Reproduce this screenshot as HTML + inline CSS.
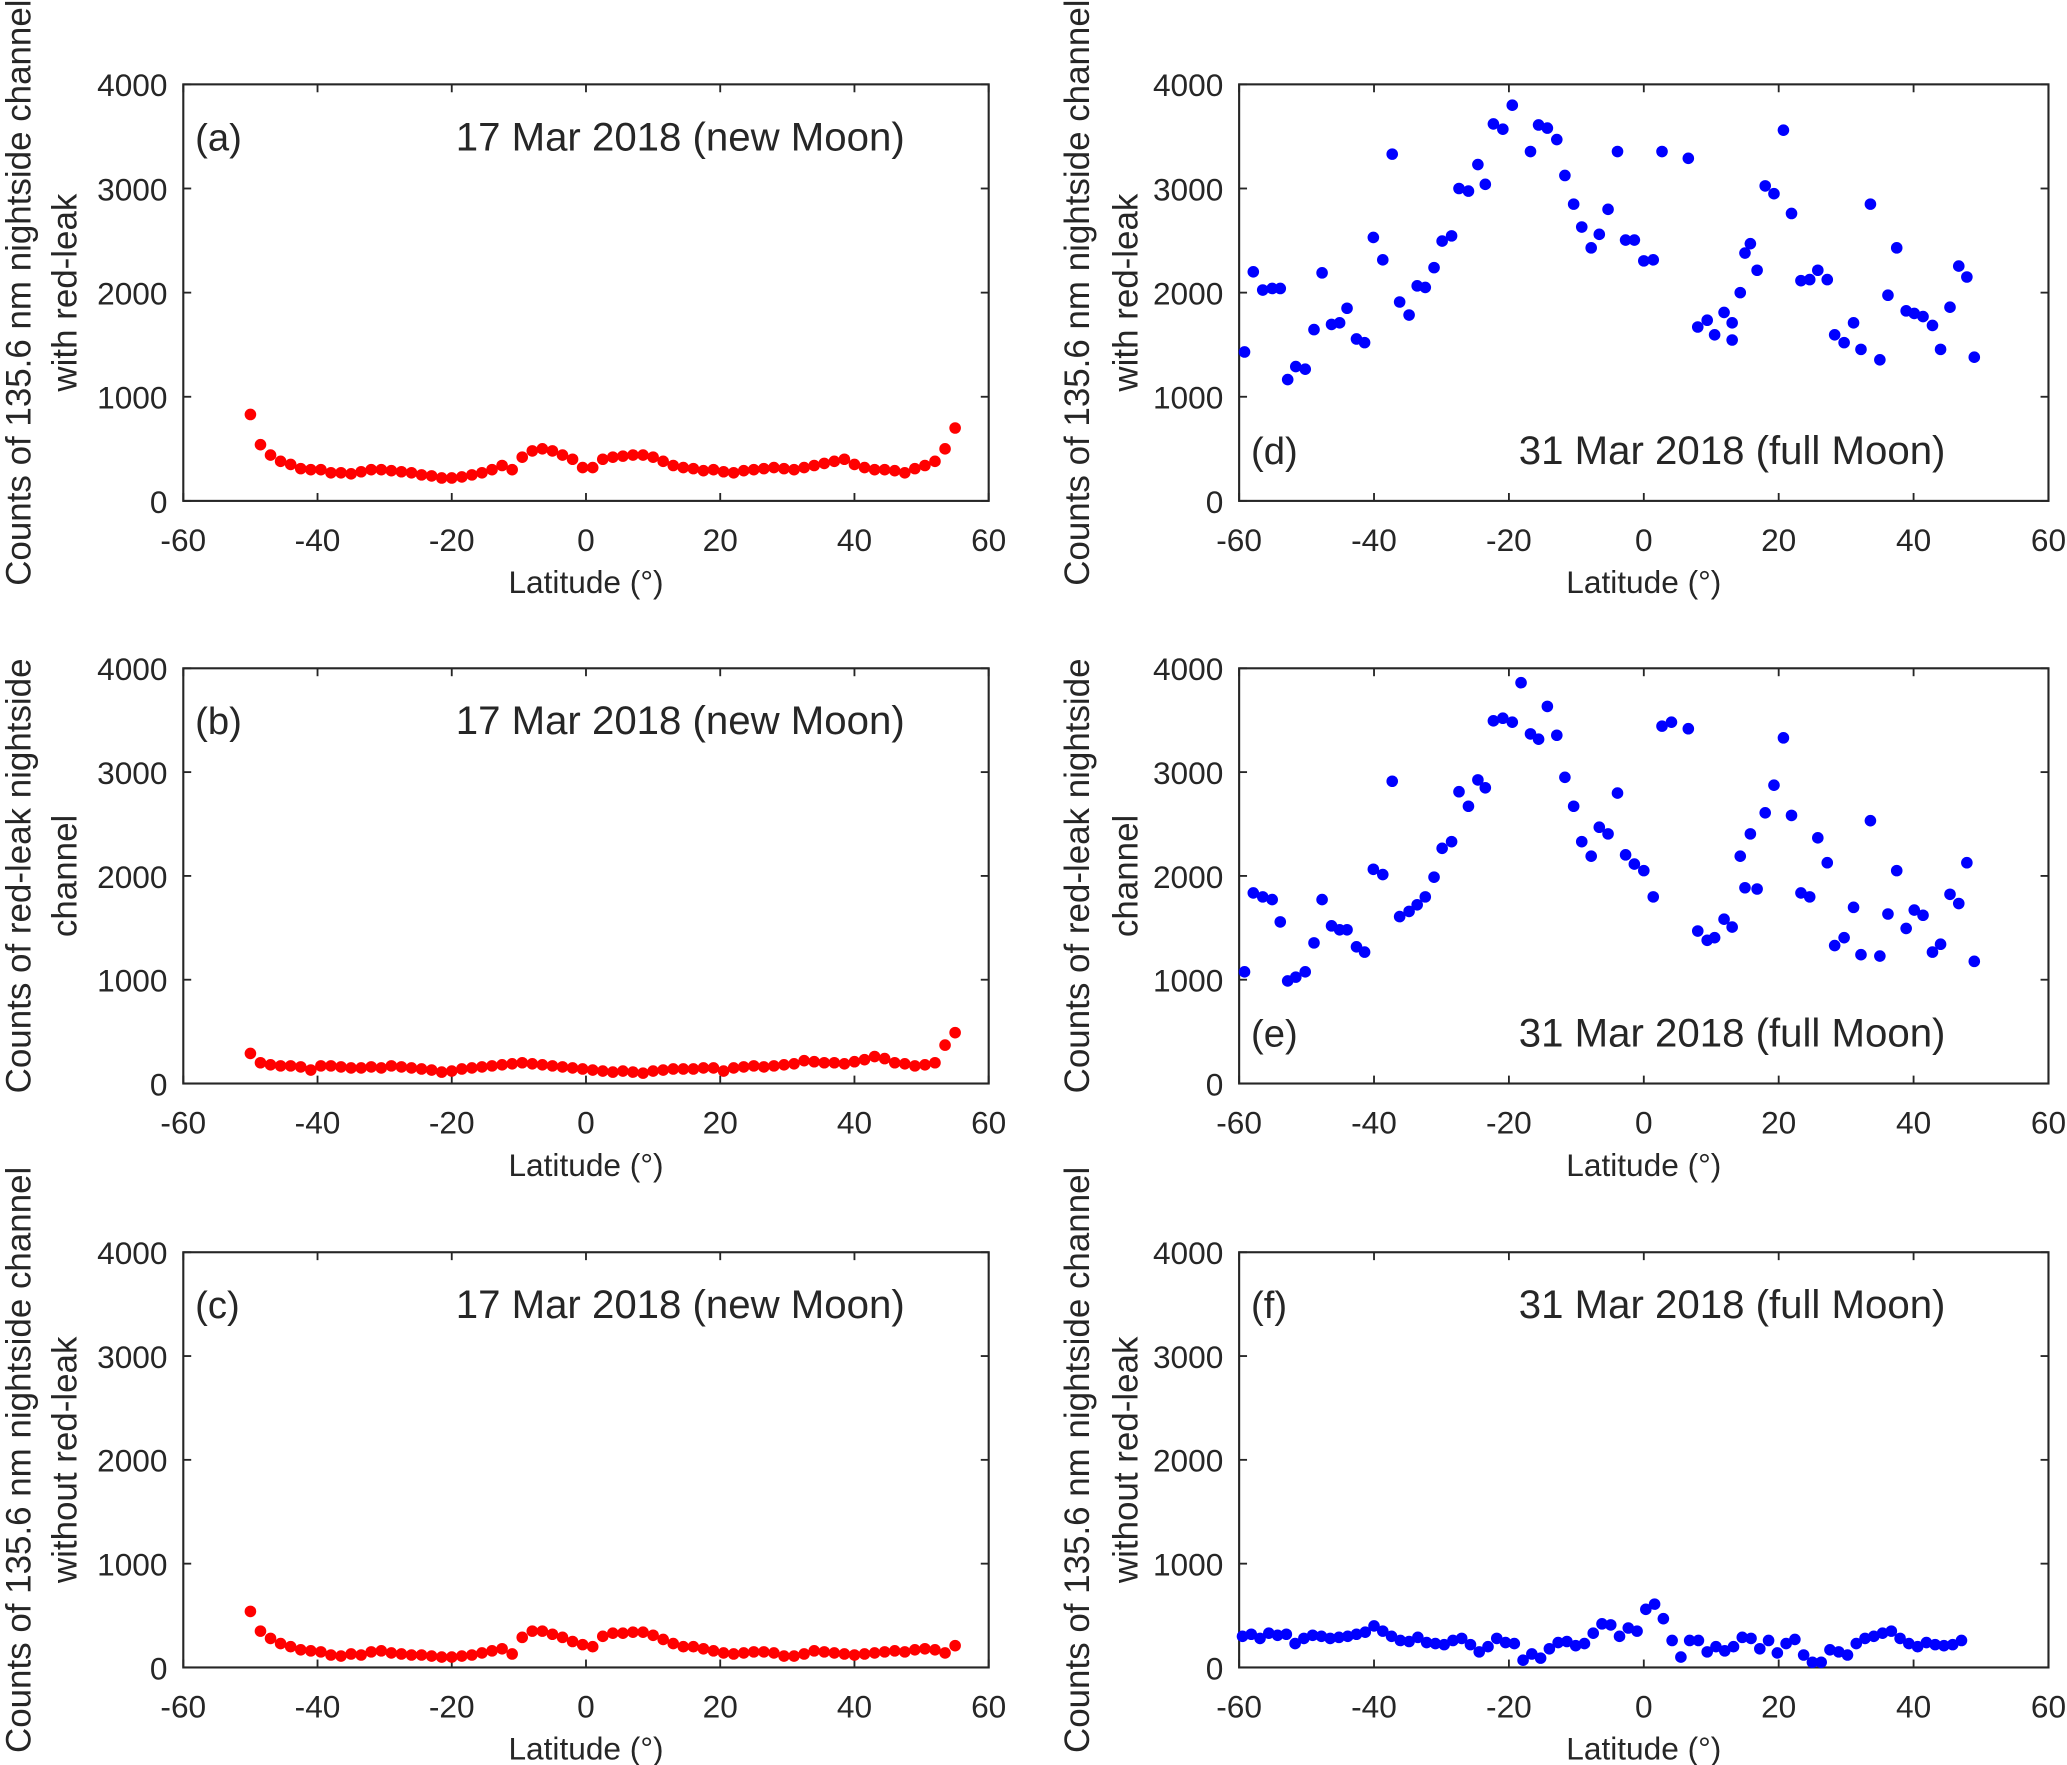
<!DOCTYPE html>
<html><head><meta charset="utf-8"><style>
html,body{margin:0;padding:0;background:#fff}
svg{display:block}
text{font-family:"Liberation Sans",Arial,sans-serif;fill:#262626}
</style></head><body>
<svg id="fig" width="2067" height="1765" viewBox="0 0 1568 1339" xmlns="http://www.w3.org/2000/svg"></svg>
<script>
const latRed=[-50,-48.5,-47,-45.5,-44,-42.5,-41,-39.5,-38,-36.5,-35,-33.5,-32,-30.5,-29,-27.5,-26,-24.5,-23,-21.5,-20,-18.5,-17,-15.5,-14,-12.5,-11,-9.5,-8,-6.5,-5,-3.5,-2,-0.5,1,2.5,4,5.5,7,8.5,10,11.5,13,14.5,16,17.5,19,20.5,22,23.5,25,26.5,28,29.5,31,32.5,34,35.5,37,38.5,40,41.5,43,44.5,46,47.5,49,50.5,52,53.5,55];
const valsA=[830,540,440,380,350,310,300,300,270,270,260,280,300,300,290,280,270,250,240,220,220,230,250,270,300,340,300,420,480,500,480,440,400,320,320,400,420,430,440,440,420,380,340,320,310,290,300,280,270,290,300,310,320,310,300,320,340,360,380,400,350,320,300,300,290,270,310,340,380,500,700];
const valsB=[290,200,180,170,170,160,130,170,170,160,150,150,160,150,170,160,150,140,130,110,120,140,150,160,170,180,190,200,190,180,170,160,150,140,130,120,110,120,110,100,120,130,140,140,140,150,150,120,150,160,170,160,170,180,190,220,210,200,200,190,210,230,260,240,200,190,170,180,200,370,490];
const valsC=[540,350,280,230,200,170,160,150,120,110,130,120,150,160,140,130,120,120,110,100,100,110,120,140,160,180,130,290,350,350,320,290,250,220,200,300,330,330,340,340,310,270,230,200,200,180,160,140,130,140,150,150,140,110,110,130,160,150,140,130,120,130,140,150,160,150,170,180,170,140,210];
const latD=[-59.2,-57.9,-56.5,-55.1,-53.9,-52.8,-51.6,-50.2,-48.9,-47.7,-46.3,-45.1,-44.0,-42.6,-41.4,-40.1,-38.7,-37.3,-36.2,-34.8,-33.6,-32.4,-31.1,-29.9,-28.5,-27.4,-26.0,-24.6,-23.5,-22.3,-20.9,-19.5,-16.8,-15.6,-14.3,-12.9,-11.7,-10.4,-9.2,-7.8,-6.6,-5.3,-3.9,-2.7,-1.4,0,1.4,2.7,6.6,8.0,9.4,10.5,11.9,13.1,13.1,14.3,15.0,15.8,16.8,18.0,19.3,20.7,21.9,23.3,24.6,25.8,27.2,28.3,29.7,31.1,32.2,33.6,35.0,36.2,37.5,38.9,40.1,41.4,42.8,44.0,45.4,46.7,47.9,49.0];
const valsD=[1430,2200,2025,2040,2040,1165,1290,1265,1645,2190,1695,1710,1850,1555,1520,2530,2315,3330,1910,1785,2065,2050,2240,2495,2545,3000,2975,3230,3040,3620,3570,3800,3355,3610,3580,3470,3125,2850,2630,2430,2560,2800,3355,2505,2505,2305,2315,3355,3290,1670,1735,1595,1810,1710,1545,2000,2380,2470,2215,3025,2950,3560,2760,2115,2125,2215,2125,1595,1520,1710,1455,2850,1355,1975,2430,1825,1800,1770,1685,1455,1860,2255,2150,1380];
const latE=[-59.2,-57.9,-56.5,-55.1,-53.9,-52.8,-51.6,-50.2,-48.9,-47.7,-46.3,-45.1,-44.0,-42.6,-41.4,-40.1,-38.7,-37.3,-36.2,-34.8,-33.6,-32.4,-31.1,-29.9,-28.5,-27.4,-26.0,-24.6,-23.5,-22.3,-20.9,-19.5,-18.2,-16.8,-15.6,-14.3,-12.9,-11.7,-10.4,-9.2,-7.8,-6.6,-5.3,-3.9,-2.7,-1.4,0,1.4,2.7,4.1,6.6,8.0,9.4,10.5,11.9,13.1,14.3,15.0,15.8,16.8,18.0,19.3,20.7,21.9,23.3,24.6,25.8,27.2,28.3,29.7,31.1,32.2,33.6,35.0,36.2,37.5,38.9,40.1,41.4,42.8,44.0,45.4,46.7,47.9,49.0];
const valsE=[1076,1836,1798,1772,1557,988,1025,1076,1355,1772,1519,1481,1481,1317,1266,2064,2013,2912,1608,1658,1722,1798,1988,2266,2330,2811,2671,2925,2849,3494,3519,3481,3861,3368,3317,3633,3355,2950,2671,2330,2190,2469,2405,2798,2203,2114,2051,1798,3443,3481,3418,1469,1380,1405,1583,1507,2190,1886,2405,1874,2608,2874,3330,2583,1836,1798,2367,2127,1329,1405,1697,1241,2532,1228,1633,2051,1494,1671,1621,1266,1342,1823,1734,2127,1177];
const latF=[-59.5,-58.2,-56.9,-55.6,-54.3,-53,-51.7,-50.4,-49.1,-47.8,-46.5,-45.2,-43.9,-42.6,-41.3,-40,-38.7,-37.4,-36.1,-34.8,-33.5,-32.2,-30.9,-29.6,-28.3,-27,-25.7,-24.4,-23.1,-21.8,-20.5,-19.2,-17.9,-16.6,-15.3,-14,-12.7,-11.4,-10.1,-8.8,-7.5,-6.2,-4.9,-3.6,-2.3,-1,0.3,1.6,2.9,4.2,5.5,6.8,8.1,9.4,10.7,12,13.3,14.6,15.9,17.2,18.5,19.8,21.1,22.4,23.7,25,26.3,27.6,28.9,30.2,31.5,32.8,34.1,35.4,36.7,38,39.3,40.6,41.9,43.2,44.5,45.8,47.1];
const valsF=[300,320,280,330,310,320,230,280,310,300,280,290,300,320,340,400,350,300,260,250,290,240,230,220,260,280,220,150,200,280,240,230,70,130,90,180,240,250,210,230,330,420,410,300,380,350,560,610,470,260,100,260,260,150,200,160,200,290,280,180,260,140,230,270,120,50,50,170,150,120,230,280,300,330,350,280,230,200,240,220,210,220,260];
const xTicks=[-60,-40,-20,0,20,40,60];
const yTicks=[0,1000,2000,3000,4000];

const NS='http://www.w3.org/2000/svg';
const svg=document.getElementById('fig');
function mk(tag,attrs,parent,txt){const e=document.createElementNS(NS,tag);for(const k in attrs)e.setAttribute(k,attrs[k]);if(txt!==undefined)e.textContent=txt;(parent||svg).appendChild(e);return e;}

const panels=[
 {id:'a',L:139,R:750,T:64,B:380,lat:latRed,v:valsA,c:'#ff0000',title:'17 Mar 2018 (new Moon)',tY:114,yl:['Counts of 135.6 nm nightside channel','with red-leak'],ylx:[23,58]},
 {id:'b',L:139,R:750,T:507,B:822,lat:latRed,v:valsB,c:'#ff0000',title:'17 Mar 2018 (new Moon)',tY:557,yl:['Counts of red-leak nightside','channel'],ylx:[23,58]},
 {id:'c',L:139,R:750,T:950,B:1265,lat:latRed,v:valsC,c:'#ff0000',title:'17 Mar 2018 (new Moon)',tY:1000,yl:['Counts of 135.6 nm nightside channel','without red-leak'],ylx:[23,58]},
 {id:'d',L:940,R:1554,T:64,B:380,lat:latD,v:valsD,c:'#0000ff',title:'31 Mar 2018 (full Moon)',tY:352,yl:['Counts of 135.6 nm nightside channel','with red-leak'],ylx:[826,863]},
 {id:'e',L:940,R:1554,T:507,B:822,lat:latE,v:valsE,c:'#0000ff',title:'31 Mar 2018 (full Moon)',tY:794,yl:['Counts of red-leak nightside','channel'],ylx:[826,863]},
 {id:'f',L:940,R:1554,T:950,B:1265,lat:latF,v:valsF,c:'#0000ff',title:'31 Mar 2018 (full Moon)',tY:1000,yl:['Counts of 135.6 nm nightside channel','without red-leak'],ylx:[826,863]}
];

panels.forEach(p=>{
 const g=mk('g',{});
 
 
 const xs=v=>p.L+(v+60)/120*(p.R-p.L);
 const ys=v=>p.B-v/4000*(p.B-p.T);
 const box=mk('rect',{x:p.L,y:p.T,width:p.R-p.L,height:p.B-p.T,fill:'none',stroke:'#262626','stroke-width':1.6},g);
 
 
 xTicks.forEach(t=>{
  const x=xs(t);
  mk('line',{x1:x,x2:x,y1:p.B,y2:p.B-6,stroke:'#262626','stroke-width':1.4},g);
  mk('line',{x1:x,x2:x,y1:p.T,y2:p.T+6,stroke:'#262626','stroke-width':1.4},g);
  const tl=mk('text',{x:x,y:p.B+38,'font-size':24,'text-anchor':'middle'},g,String(t));
  
  
 });
 yTicks.forEach(t=>{
  const y=ys(t);
  mk('line',{x1:p.L,x2:p.L+6,y1:y,y2:y,stroke:'#262626','stroke-width':1.4},g);
  mk('line',{x1:p.R,x2:p.R-6,y1:y,y2:y,stroke:'#262626','stroke-width':1.4},g);
  const tl=mk('text',{x:p.L-12,y:y+9,'font-size':24,'text-anchor':'end'},g,String(t));
  
  
 });
 const xl=mk('text',{x:(p.L+p.R)/2,y:p.B+70,'font-size':24,'text-anchor':'middle'},g,'Latitude (°)');
 
 
 const cy=(p.T+p.B)/2;
 p.yl.forEach((s,i)=>{
  const t=mk('text',{x:0,y:0,'font-size':26.5,'text-anchor':'middle',transform:`translate(${p.ylx[i]},${cy}) rotate(-90)`},g,s);
  
  
 });
 const pl=mk('text',{x:p.L+9,y:p.tY,'font-size':29},g,'('+p.id+')');
 
 
 const ti=mk('text',{x:p.L+(p.id<'d'?377:374),y:p.tY,'font-size':30.5,'text-anchor':'middle'},g,p.title);
 
 
 const n=Math.min(p.lat.length,p.v.length);
 for(let i=0;i<n;i++){
  const c=mk('circle',{cx:xs(p.lat[i]),cy:ys(p.v[i]),r:4.4,fill:p.c},g);
  
  
 }
});
</script>
</body></html>
